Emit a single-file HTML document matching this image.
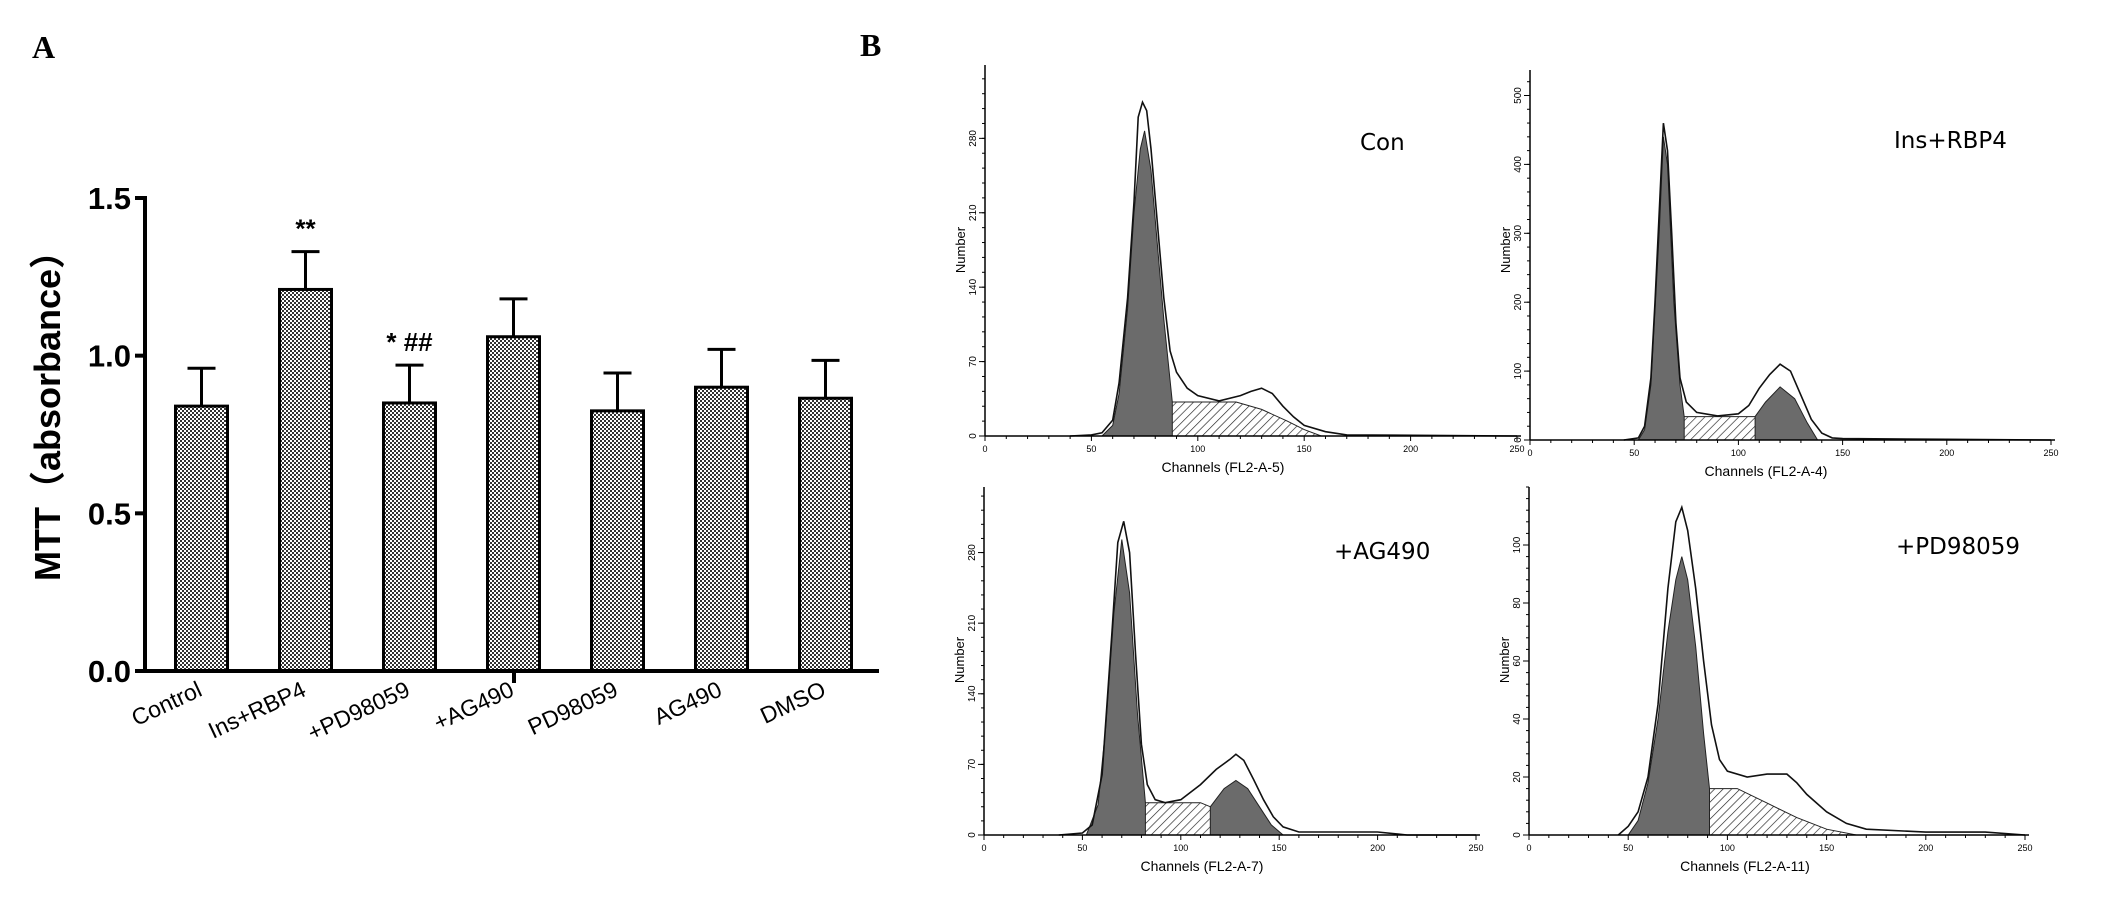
<!DOCTYPE html>
<html><head><meta charset="utf-8"><style>
html,body{margin:0;padding:0;background:#fff;overflow:hidden;}
svg{display:block;}
</style></head><body>
<svg id="fig" width="2126" height="923" viewBox="0 0 2126 923" xmlns="http://www.w3.org/2000/svg">
<defs>
<pattern id="check" width="4" height="4" patternUnits="userSpaceOnUse"><rect width="4" height="4" fill="#fff"/><rect width="2" height="2" fill="#333"/><rect x="2" y="2" width="2" height="2" fill="#333"/></pattern>
<pattern id="hatch" width="6" height="6" patternUnits="userSpaceOnUse" patternTransform="rotate(45)"><rect width="6" height="6" fill="#fff"/><line x1="0" y1="0" x2="0" y2="6" stroke="#222" stroke-width="1.3"/></pattern>
</defs>
<text x="32" y="58" font-family="Liberation Serif, serif" font-weight="bold" font-size="32">A</text>
<text x="860" y="56" font-family="Liberation Serif, serif" font-weight="bold" font-size="32">B</text>
<g id="barchart"></g>
<g id="hists"></g>
</svg>
<script>
const categories = ["Control","Ins+RBP4","+PD98059","+AG490","PD98059","AG490","DMSO"];
const means = [0.84,1.21,0.85,1.06,0.825,0.90,0.865];
const errTops = [0.96,1.33,0.97,1.18,0.945,1.02,0.985];
const sigLabels = ["","**","* ##","","","",""];
const yTicks = [0.0,0.5,1.0,1.5];

const conOutline=[[40,0],[50,1],[55,3],[60,15],[63,50],[67,130],[70,220],[72,300],[74,314],[76,306],[78,270],[81,200],[84,130],[87,80],[90,60],[95,45],[100,38],[110,33],[120,38],[125,42],[130,45],[135,40],[140,28],[145,18],[150,10],[160,4],[170,1],[250,0]];
const conG1=[[55,0],[60,10],[63,40],[67,120],[70,210],[73,270],[75,287],[78,250],[81,180],[84,110],[88,32]];
const conS=[[62,0],[70,8],[78,22],[88,32],[118,32],[130,25],[142,14],[150,6],[158,0]];
const insOutline=[[45,0],[52,3],[55,20],[58,90],[60,200],[62,330],[64,460],[66,420],[68,300],[70,170],[72,90],[75,55],[80,40],[90,35],[100,38],[105,50],[110,75],[115,95],[120,110],[125,100],[130,65],[135,30],[140,10],[145,3],[150,2],[200,1],[250,0]];
const insG1=[[52,0],[55,15],[58,80],[62,300],[64,440],[66,400],[69,200],[72,80],[74,34]];
const insS=[[58,0],[65,15],[72,34],[108,34],[115,24],[125,10],[135,0]];
const insG2=[[108,34],[113,55],[120,77],[127,60],[133,25],[138,0]];
const agOutline=[[38,0],[50,2],[55,10],[60,60],[65,200],[68,290],[71,311],[74,280],[77,180],[80,90],[83,50],[87,35],[92,32],[100,35],[110,50],[118,65],[125,75],[128,80],[132,74],[137,55],[142,35],[147,18],[152,8],[160,3],[200,3],[215,0],[250,0]];
const agG1=[[52,0],[58,30],[62,110],[66,220],[70,293],[74,240],[78,120],[82,32]];
const agS=[[62,0],[70,10],[76,25],[82,32],[110,32],[120,24],[130,14],[140,5],[147,0]];
const agG2=[[115,28],[122,46],[128,54],[134,46],[140,28],[146,10],[152,0]];
const pdOutline=[[45,0],[50,3],[55,8],[60,20],[65,45],[70,85],[74,108],[77,113],[80,105],[84,85],[88,60],[92,38],[96,26],[100,22],[110,20],[120,21],[130,21],[135,18],[140,14],[150,8],[160,4],[170,2],[200,1],[230,1],[250,0]];
const pdG1=[[50,0],[55,5],[60,18],[65,40],[70,70],[74,88],[77,96],[80,88],[84,65],[88,35],[91,16]];
const pdS=[[58,0],[65,3],[72,6],[80,12],[90,16],[105,16],[120,11],[135,6],[150,2],[165,0]];

const NS="http://www.w3.org/2000/svg";
function mk(tag,attrs,parent,txt){const e=document.createElementNS(NS,tag);for(const k in attrs)e.setAttribute(k,attrs[k]);if(txt!==undefined)e.textContent=txt;parent.appendChild(e);return e;}

// ---- Bar chart
const bc=document.getElementById('barchart');
const X0=145,X1=879,Y0=671,Y1=198;
const yv=v=>Y0-(v/1.5)*(Y0-Y1);
const xc=i=>201.5+i*104;
const BW=52;
yTicks.forEach(t=>{
 const tk=mk('line',{x1:X0-10,x2:X0,y1:yv(t),y2:yv(t),stroke:'#000','stroke-width':4},bc);
 
 
 const lb=mk('text',{x:X0-14,y:yv(t)+11,'text-anchor':'end','font-family':'Liberation Sans, sans-serif','font-weight':'bold','font-size':31},bc,t.toFixed(1));
 
 
});
categories.forEach((c,i)=>{
 const x=xc(i);
 const el=mk('line',{x1:x,x2:x,y1:yv(errTops[i]),y2:yv(means[i]),stroke:'#000','stroke-width':3},bc);
 
 
 const cap=mk('line',{x1:x-14,x2:x+14,y1:yv(errTops[i]),y2:yv(errTops[i]),stroke:'#000','stroke-width':3},bc);
 
 
 const r=mk('rect',{x:x-BW/2,y:yv(means[i]),width:BW,height:Y0-yv(means[i]),fill:'url(#check)',stroke:'#000','stroke-width':3},bc);
 
 
 if(sigLabels[i]){
  const s=mk('text',{x:x,y:yv(errTops[i])-14,'text-anchor':'middle','font-family':'Liberation Sans, sans-serif','font-weight':'bold','font-size':26},bc,sigLabels[i]);
  
  
 }
 const lb=mk('text',{x:x+2,y:Y0+24,'text-anchor':'end','font-family':'Liberation Sans, sans-serif','font-size':23,transform:`rotate(-25 ${x+2} ${Y0+24})`},bc,c);
 
 
});
const ya=mk('line',{x1:X0,x2:X0,y1:Y1-2,y2:Y0+2,stroke:'#000','stroke-width':4},bc);


const xa=mk('line',{x1:X0-2,x2:X1,y1:Y0,y2:Y0,stroke:'#000','stroke-width':4},bc);


const mt=mk('line',{x1:514,x2:514,y1:Y0,y2:Y0+12,stroke:'#000','stroke-width':4},bc);


const yt=mk('text',{x:0,y:0,'text-anchor':'middle','font-family':'Liberation Sans, Noto Sans CJK SC, sans-serif','font-weight':'bold','font-size':36,transform:'translate(60 407) rotate(-90)'},bc,'MTT（absorbance）');



// ---- Histograms
const hs=document.getElementById('hists');
function hist(cfg){
 const g=mk('g',{},hs);
 
 
 const {ax,ay,x250,top,ymax,ticks,minor}=cfg;
 const sx=c=>ax+c/250*(x250-ax);
 const sy=v=>ay-v/ymax*(ay-top);
 const pathOf=(pts,close)=>{let d='M'+pts.map(p=>sx(p[0]).toFixed(1)+','+sy(p[1]).toFixed(1)).join(' L');if(close)d+=` L${sx(pts[pts.length-1][0]).toFixed(1)},${ay} L${sx(pts[0][0]).toFixed(1)},${ay} Z`;return d;};
 const s=mk('path',{d:pathOf(cfg.S,true),fill:'url(#hatch)',stroke:'#222','stroke-width':1},g);
 
 
 const g1=mk('path',{d:pathOf(cfg.G1,true),fill:'#6b6b6b',stroke:'#222','stroke-width':1},g);
 
 
 if(cfg.G2){const g2=mk('path',{d:pathOf(cfg.G2,true),fill:'#6b6b6b',stroke:'#222','stroke-width':1},g);
  
  }
 const o=mk('path',{d:pathOf(cfg.outline,false),fill:'none',stroke:'#111','stroke-width':1.6},g);
 
 
 mk('line',{x1:ax,x2:ax,y1:top,y2:ay,stroke:'#000','stroke-width':1.5},g);
 mk('line',{x1:ax,x2:x250+4,y1:ay,y2:ay,stroke:'#000','stroke-width':1.5},g);
 for(let c=0;c<=250;c+=10){mk('line',{x1:sx(c),x2:sx(c),y1:ay,y2:ay+(c%50?3:5),stroke:'#000','stroke-width':1},g);}
 for(let v=0;v<=ymax;v+=minor){mk('line',{x1:ax-3,x2:ax,y1:sy(v),y2:sy(v),stroke:'#000','stroke-width':1},g);}
 [0,50,100,150,200,250].forEach(c=>{const t=mk('text',{x:sx(c),y:ay+16,'text-anchor':'middle','font-family':'Liberation Sans, sans-serif','font-size':9},g,String(c));
  
  });
 ticks.forEach(v=>{mk('line',{x1:ax-6,x2:ax,y1:sy(v),y2:sy(v),stroke:'#000','stroke-width':1},g);
  const t=mk('text',{x:0,y:0,'text-anchor':'middle','font-family':'Liberation Sans, sans-serif','font-size':10,transform:`translate(${ax-9} ${sy(v)}) rotate(-90)`},g,String(v));
  
  });
 const nl=mk('text',{x:0,y:0,'text-anchor':'middle','font-family':'Liberation Sans, sans-serif','font-size':13,transform:`translate(${ax-20} ${cfg.ny}) rotate(-90)`},g,'Number');
 
 
 const cl=mk('text',{x:cfg.cx,y:ay+36,'text-anchor':'middle','font-family':'Liberation Sans, sans-serif','font-size':14},g,cfg.xlabel);
 
 
 const tl=mk('text',{x:cfg.tx,y:cfg.ty,'font-family':'DejaVu Sans, sans-serif','font-size':23},g,cfg.title);
 
 
}
hist({id:'con',ax:985,ay:436,x250:1517,top:65,ymax:349,ticks:[0,70,140,210,280],minor:14,outline:conOutline,G1:conG1,S:conS,xlabel:'Channels (FL2-A-5)',cx:1223,ny:250,title:'Con',tx:1360,ty:150});
hist({id:'ins-rbp4',ax:1530,ay:440,x250:2051,top:70,ymax:537,ticks:[0,100,200,300,400,500],minor:20,outline:insOutline,G1:insG1,S:insS,G2:insG2,xlabel:'Channels (FL2-A-4)',cx:1766,ny:250,title:'Ins+RBP4',tx:1894,ty:148});
hist({id:'ag490',ax:984,ay:835,x250:1476,top:487,ymax:345,ticks:[0,70,140,210,280],minor:14,outline:agOutline,G1:agG1,S:agS,G2:agG2,xlabel:'Channels (FL2-A-7)',cx:1202,ny:660,title:'+AG490',tx:1334,ty:559});
hist({id:'pd98059',ax:1529,ay:835,x250:2025,top:487,ymax:120,ticks:[0,20,40,60,80,100],minor:4,outline:pdOutline,G1:pdG1,S:pdS,xlabel:'Channels (FL2-A-11)',cx:1745,ny:660,title:'+PD98059',tx:1896,ty:554});
</script>
</body></html>
